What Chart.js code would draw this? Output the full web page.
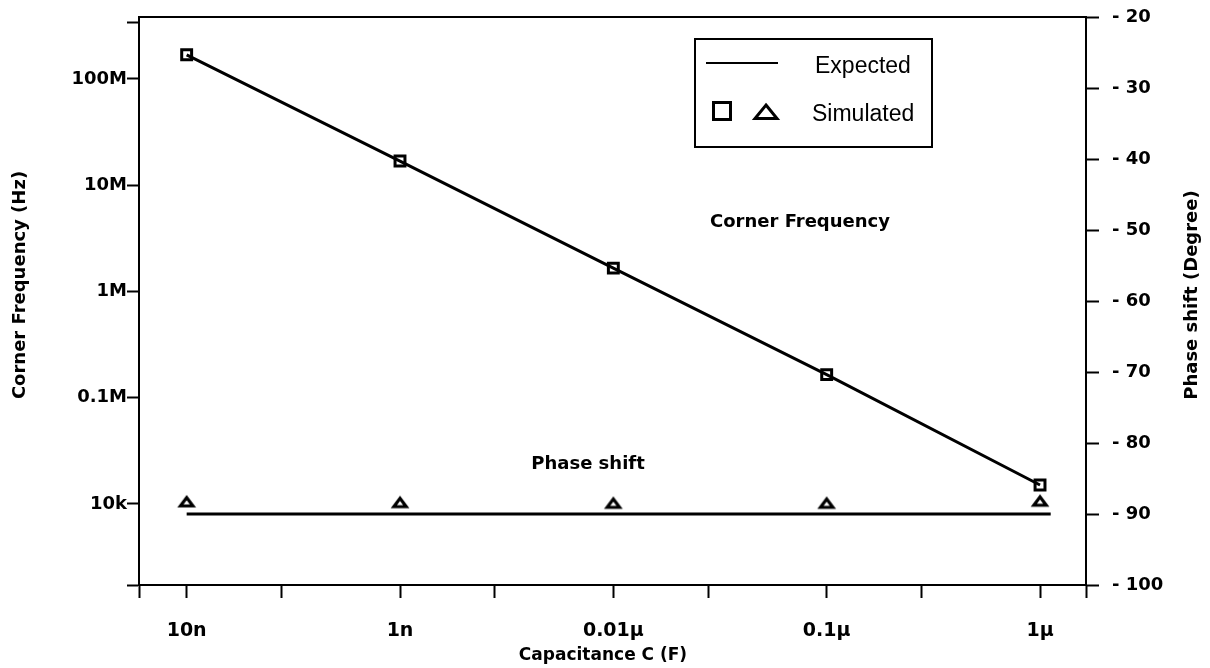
<!DOCTYPE html>
<html><head><meta charset="utf-8">
<script src="https://cdn.jsdelivr.net/npm/chart.js@4/dist/chart.umd.min.js"></script>
<style>html,body{margin:0;padding:0;background:#fff;}#wrap{width:1210px;height:668px;}</style>
</head><body><div id="wrap"><canvas id="c" width="1210" height="668"></canvas></div>
<script>
// ---- data ----
const capacitanceLabels = ['10n', '1n', '0.01\u03bc', '0.1\u03bc', '1\u03bc'];
const capacitancePos = [0, 1, 2, 3, 4];            // decade index on the log capacitance axis
const expectedFreq = [1.69e8, 1.69e7, 1.66e6, 1.65e5, 1.51e4];
const simulatedFreq = [1.69e8, 1.69e7, 1.66e6, 1.65e5, 1.51e4];
const expectedPhasePos = [0, 4.05];
const expectedPhase = [-90, -90];
const simulatedPhase = [-88.3, -88.4, -88.5, -88.5, -88.2];
const freqTickValues = [1e4, 1e5, 1e6, 1e7, 1e8];
const freqTickLabels = ['10k', '0.1M', '1M', '10M', '100M'];
const xMinorTicks = [0.445, 1.445, 2.445, 3.445];
const xMin = -0.2234, xMax = 4.2155;
const yMin = 1728, yMax = 3.833e8, yExtraTick = 3.37e8;

const triangleImg = (() => {
  const c = document.createElement('canvas'); c.width = 22; c.height = 18;
  const g = c.getContext('2d'); g.lineWidth = 3.2; g.strokeStyle = '#000'; g.lineJoin = 'miter';
  g.beginPath(); g.moveTo(11, 4.6); g.lineTo(17.2, 13); g.lineTo(4.8, 13); g.closePath(); g.stroke();
  return c;
})();

const FONT = 'DejaVu Sans';

const decor = {
  id: 'decor',
  afterDraw(chart) {
    const ctx = chart.ctx, a = chart.chartArea;
    ctx.save();
    ctx.strokeStyle = '#000'; ctx.fillStyle = '#000';
    // top border
    ctx.lineWidth = 2;
    ctx.beginPath(); ctx.moveTo(a.left - 1, a.top); ctx.lineTo(a.right + 1, a.top); ctx.stroke();
    // legend
    ctx.lineWidth = 2;
    ctx.strokeRect(695, 39, 237, 108);
    ctx.beginPath(); ctx.moveTo(706, 63); ctx.lineTo(778, 63); ctx.stroke();
    ctx.font = '23px "Liberation Sans"'; ctx.textBaseline = 'alphabetic'; ctx.textAlign = 'left';
    ctx.fillText('Expected', 815, 73);
    ctx.fillText('Simulated', 812, 121);
    ctx.lineWidth = 3;
    ctx.strokeRect(713.5, 102.5, 17, 17);
    ctx.lineJoin = 'miter';
    ctx.beginPath(); ctx.moveTo(766, 105); ctx.lineTo(777, 118.5); ctx.lineTo(755, 118.5); ctx.closePath(); ctx.stroke();
    // annotations
    ctx.font = 'bold 18px "' + FONT + '"'; ctx.textAlign = 'center'; ctx.textBaseline = 'middle';
    ctx.fillText('Corner Frequency', 800, 222);
    ctx.fillText('Phase shift', 588, 464);
    // axis titles
    ctx.save(); ctx.translate(20, 285); ctx.rotate(-Math.PI / 2);
    ctx.fillText('Corner Frequency (Hz)', 0, 0); ctx.restore();
    ctx.save(); ctx.translate(1192, 295); ctx.rotate(-Math.PI / 2);
    ctx.fillText('Phase shift (Degree)', 0, 0); ctx.restore();
    ctx.font = 'bold 17px "' + FONT + '"';
    ctx.fillText('Capacitance C (F)', 603, 656);
    ctx.restore();
  }
};

const pts = (xs, ys) => xs.map((x, i) => ({ x, y: ys[i] }));

new Chart(document.getElementById('c'), {
  type: 'line',
  data: {
    datasets: [
      { label: 'Expected', data: pts(capacitancePos, expectedFreq), yAxisID: 'y',
        borderColor: '#000', borderWidth: 3, pointRadius: 0, tension: 0, fill: false },
      { label: 'Simulated', data: pts(capacitancePos, simulatedFreq), yAxisID: 'y', showLine: false,
        pointStyle: 'rect', pointRadius: 7, pointBorderWidth: 3, pointBorderColor: '#000',
        pointBackgroundColor: 'rgba(0,0,0,0)' },
      { label: 'Expected phase', data: pts(expectedPhasePos, expectedPhase), yAxisID: 'y2',
        borderColor: '#000', borderWidth: 3, pointRadius: 0, tension: 0, fill: false },
      { label: 'Simulated phase', data: pts(capacitancePos, simulatedPhase), yAxisID: 'y2', showLine: false,
        pointStyle: triangleImg, pointRadius: 7 }
    ]
  },
  options: {
    responsive: false, animation: false, events: [],
    layout: { padding: { top: 17, left: 0, right: 0, bottom: 0 } },
    plugins: { legend: { display: false }, tooltip: { enabled: false } },
    scales: {
      x: {
        type: 'linear', position: 'bottom', min: xMin, max: xMax,
        afterBuildTicks: s => { s.ticks = [xMin, ...capacitancePos, ...xMinorTicks, xMax].sort((p, q) => p - q).map(v => ({ value: v })); },
        afterFit: s => { s.height = 83; s.paddingLeft = 0; s.paddingRight = 0; },
        ticks: { autoSkip: false, maxRotation: 0, minRotation: 0, padding: 22, color: '#000',
          font: { family: FONT, weight: 'bold', size: 19 },
          callback: v => { const i = capacitancePos.indexOf(v); return i >= 0 ? capacitanceLabels[i] : ''; } },
        grid: { drawOnChartArea: false, drawTicks: true, tickLength: 13, tickWidth: 2, tickColor: '#000' },
        border: { display: true, color: '#000', width: 2 }
      },
      y: {
        type: 'logarithmic', position: 'left', min: yMin, max: yMax,
        afterBuildTicks: s => { s.ticks = [yMin, ...freqTickValues, yExtraTick].map(v => ({ value: v })); },
        afterFit: s => { s.width = 139; s.paddingTop = 0; s.paddingBottom = 0; },
        ticks: { autoSkip: false, padding: 0, color: '#000',
          font: { family: FONT, weight: 'bold', size: 18 },
          callback: v => { const i = freqTickValues.indexOf(v); return i >= 0 ? freqTickLabels[i] : ''; } },
        grid: { drawOnChartArea: false, drawTicks: true, tickLength: 12, tickWidth: 2, tickColor: '#000' },
        border: { display: true, color: '#000', width: 2 }
      },
      y2: {
        type: 'linear', position: 'right', min: -100, max: -20,
        afterFit: s => { s.width = 124; s.paddingTop = 0; s.paddingBottom = 0; },
        ticks: { stepSize: 10, autoSkip: false, padding: 13, color: '#000',
          font: { family: FONT, weight: 'bold', size: 18 },
          callback: v => '- ' + Math.abs(v) },
        grid: { drawOnChartArea: false, drawTicks: true, tickLength: 13, tickWidth: 2, tickColor: '#000' },
        border: { display: true, color: '#000', width: 2 }
      }
    }
  },
  plugins: [decor]
});
</script>
</body></html>
